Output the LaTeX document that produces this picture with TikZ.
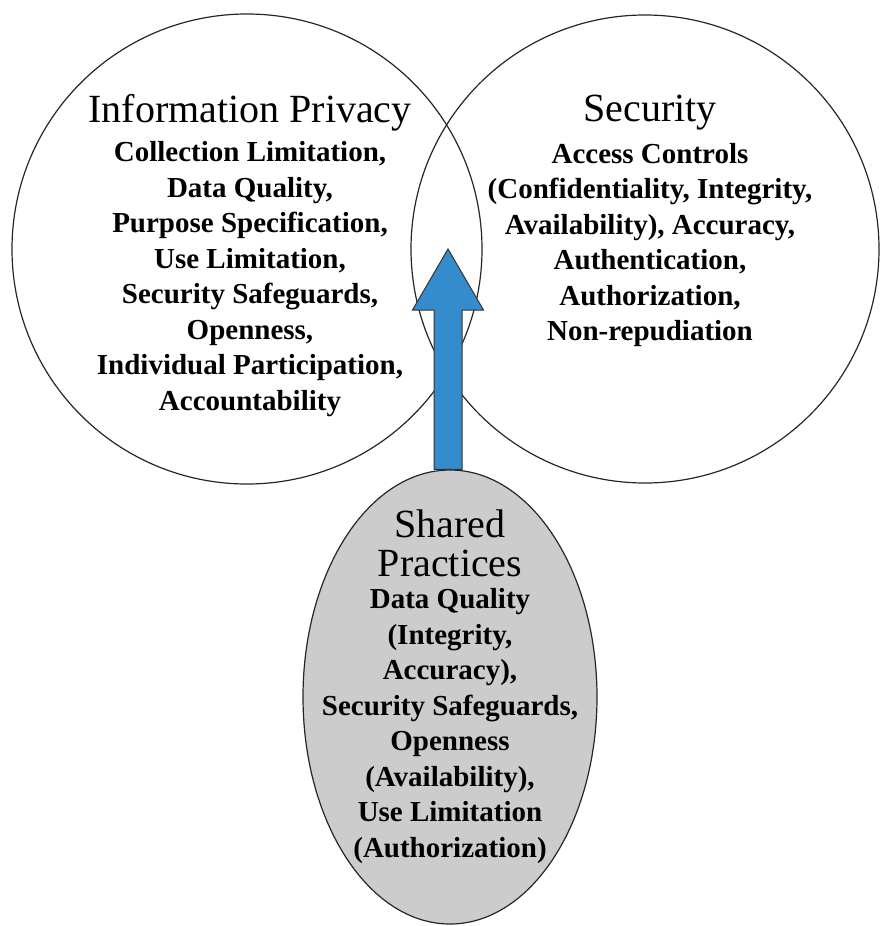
\documentclass[tikz,border=0pt]{standalone}
\usepackage{fontspec}
\setmainfont{Liberation Serif}
\usetikzlibrary{shapes.geometric,calc}
\definecolor{arrowblue}{RGB}{52,140,204}
\definecolor{ellgray}{RGB}{204,204,204}
\tikzset{
  setcircle/.style={circle, draw=black!85, line width=1.2pt, inner sep=0pt},
  sharedell/.style={ellipse, draw=black!85, line width=1.2pt, fill=ellgray, inner sep=0pt,
    minimum width=294pt, minimum height=454pt},
  titletext/.style={align=center, inner sep=0pt, font=\fontsize{40}{39}\selectfont},
  bodytext/.style={align=center, inner sep=0pt, font=\fontsize{29}{35.5}\selectfont\bfseries},
  bluearrow/.style={fill=arrowblue, draw=black!80, line width=1pt, line join=miter}
}
\begin{document}
\begin{tikzpicture}[x=1pt,y=-1pt]
\useasboundingbox (0,0) rectangle (880,926);
% circles
\node[setcircle, minimum size=470pt] (privacy) at (247,249) {};
\node[setcircle, minimum size=468pt] (security) at (645,249) {};
% arrow from shared practices to the overlap
\coordinate (tip) at ($(privacy.center)!0.5!(security.center)+(2,0)$);
% shared ellipse
\node[sharedell] (shared) at (450,697) {};
\draw[bluearrow] (tip) -- ++(35.5,61) -- ++(-21.5,0) coordinate (hr)
  -- (hr |- shared.north) -- ++(-28,0) coordinate (bl)
  -- (bl |- hr) -- ++(-21.5,0) -- cycle;
% texts
\node[titletext] (privtitle) at (250,113) {Information Privacy};
\node[bodytext] (privtext) at (250,279) {Collection Limitation,\\ Data Quality,\\ Purpose Specification,\\ Use Limitation,\\ Security Safeguards,\\ Openness,\\ Individual Participation,\\ Accountability};
\node[titletext] (sectitle) at (650,113) {Security};
\node[bodytext] (sectext) at (650,245) {Access Controls\\ (Confidentiality, Integrity,\\ Availability), Accuracy,\\ Authentication,\\ Authorization,\\ Non-repudiation};
\node[titletext] (sharedtitle) at (450,543) {Shared\\ Practices};
\node[bodytext] (sharedtext) at (450,726) {Data Quality\\ (Integrity,\\ Accuracy),\\ Security Safeguards,\\ Openness\\ (Availability),\\ Use Limitation\\ (Authorization)};
\end{tikzpicture}
\end{document}
